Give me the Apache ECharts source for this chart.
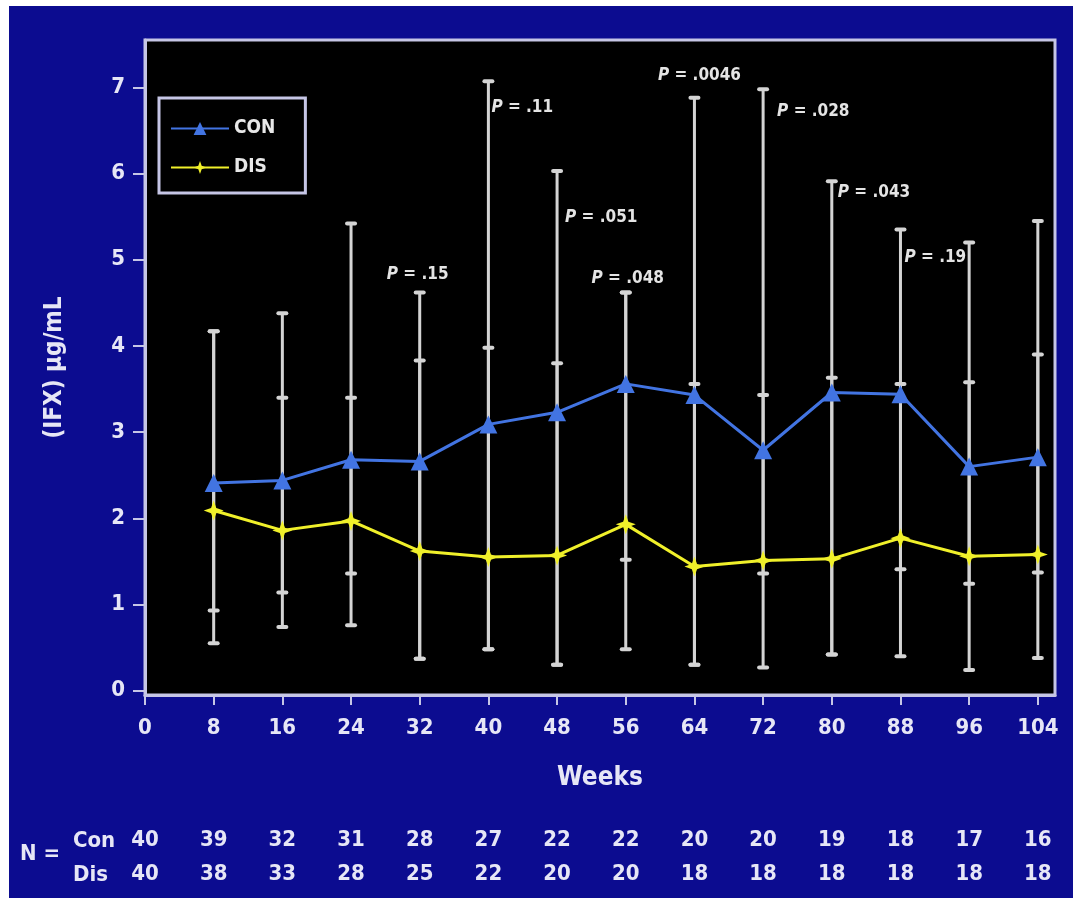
<!DOCTYPE html>
<html>
<head>
<meta charset="utf-8">
<title>IFX trough levels over time</title>
<script src="https://cdn.jsdelivr.net/npm/echarts@6/dist/echarts.min.js"></script>
<style>
  html, body { margin: 0; padding: 0; background: #ffffff; }
  #panel { position: absolute; left: 9px; top: 6px; right: 0; bottom: 10px; background: #0c0c90; }
  #chart { position: absolute; left: 0; top: 0; width: 1073px; height: 908px; }
</style>
</head>
<body>
<div id="panel"></div>
<div id="chart"></div>
<script>
// Visit weeks and group summaries (IFX, µg/mL)
const weeks   = [8, 16, 24, 32, 40, 48, 56, 64, 72, 80, 88, 96, 104];
const conMean = [2.41, 2.44, 2.68, 2.66, 3.09, 3.23, 3.56, 3.43, 2.79, 3.46, 3.44, 2.60, 2.71];
const disMean = [2.09, 1.86, 1.97, 1.62, 1.55, 1.57, 1.93, 1.44, 1.51, 1.53, 1.77, 1.56, 1.58];
const conHigh = [4.17, 4.38, 5.42, 4.62, 7.07, 6.03, 4.62, 6.88, 6.98, 5.91, 5.35, 5.20, 5.45];
const conLow  = [0.93, 1.14, 1.36, 0.37, 0.48, 0.30, 1.52, 0.30, 1.36, 0.42, 1.41, 1.24, 1.37];
const disHigh = [4.17, 3.40, 3.40, 3.83, 3.98, 3.80, 4.62, 3.56, 3.43, 3.63, 3.56, 3.58, 3.90];
const disLow  = [0.55, 0.74, 0.76, 0.37, 0.48, 0.30, 0.48, 0.30, 0.27, 0.42, 0.40, 0.24, 0.38];

// P values between groups, attached to the CON upper whisker of that week
const pWeeks  = [32, 40, 48, 56, 64, 72, 80, 88];
const pTexts  = ['.15', '.11', '.051', '.048', '.0046', '.028', '.043', '.19'];

// Axis ticks and patients at risk per week
const tickWeeks = [0, 8, 16, 24, 32, 40, 48, 56, 64, 72, 80, 88, 96, 104];
const yTicks    = [0, 1, 2, 3, 4, 5, 6, 7];
const conN = [40, 39, 32, 31, 28, 27, 22, 22, 20, 20, 19, 18, 17, 16];
const disN = [40, 38, 33, 28, 25, 22, 20, 20, 18, 18, 18, 18, 18, 18];

// Pick a narrow bold face: a condensed width of DejaVu Sans if present, else Liberation Sans
function pickFont() {
  const ctx = document.createElement('canvas').getContext('2d');
  const w = f => { ctx.font = f; return ctx.measureText('0123456789 Weeks CON').width; };
  if (w('bold 40px "Liberation Sans Narrow", monospace') !== w('bold 40px monospace')) {
    return { weight: 'bold', family: '"Liberation Sans Narrow", sans-serif' };
  }
  const wide = w('bold 40px "DejaVu Sans"');
  const cond = w('bold condensed 40px "DejaVu Sans"');
  if (cond > 0 && cond < wide * 0.95) {
    return { weight: 'bold condensed', family: '"DejaVu Sans", sans-serif' };
  }
  return { weight: 'bold', family: '"Liberation Sans", Arial, sans-serif' };
}
const F = pickFont();
const FONT = F.family, WEIGHT = F.weight;

const TEXT = '#e6e6f6';
const FRAME = '#c6c6e6';
const WHISKER = '#d4d4d4';
const BLUE = '#4274e2';
const YELLOW = '#f0f02a';
const STAR = 'path://M0,-10 L2.6,-2.6 L10,0 L2.6,2.6 L0,10 L-2.6,2.6 L-10,0 L-2.6,-2.6 Z';

const txt = (size, extra) => Object.assign({ color: TEXT, fontFamily: FONT, fontWeight: WEIGHT, fontSize: size }, extra || {});

// label placement next to each whisker cap: [dx, dy, align]
const pPlace = {
  32: [-2, -18, 'center'], 40: [3, 26, 'left'], 48: [8, 47, 'left'], 56: [2, -14, 'center'],
  64: [5, -22, 'center'], 72: [14, 22, 'left'], 80: [6, 11, 'left'], 88: [4, 28, 'left']
};

const rangeData = (lo, hi) => weeks.map((w, i) => [w, lo[i], hi[i]]);

function renderWhisker(params, api) {
  const top = api.coord([api.value(0), api.value(2)]);
  const bot = api.coord([api.value(0), api.value(1)]);
  const capW = 12, capH = 4;
  const style = { fill: WHISKER };
  return {
    type: 'group',
    children: [
      { type: 'line', shape: { x1: top[0], y1: top[1], x2: bot[0], y2: bot[1] },
        style: { stroke: WHISKER, lineWidth: 3 } },
      { type: 'rect', shape: { x: top[0] - capW / 2, y: top[1] - capH / 2, width: capW, height: capH, r: 2 }, style },
      { type: 'rect', shape: { x: bot[0] - capW / 2, y: bot[1] - capH / 2, width: capW, height: capH, r: 2 }, style }
    ]
  };
}

const pData = pWeeks.map((w, i) => [w, conHigh[weeks.indexOf(w)], i]);

function renderP(params, api) {
  const w = api.value(0);
  const pt = api.coord([w, api.value(1)]);
  const place = pPlace[w];
  return {
    type: 'text',
    x: pt[0] + place[0],
    y: pt[1] + place[1],
    style: {
      text: '{i|P} = ' + pTexts[api.value(2)],
      align: place[2],
      verticalAlign: 'middle',
      fill: '#e4e4e4',
      fontFamily: FONT, fontWeight: WEIGHT, fontSize: 17,
      rich: { i: { fontStyle: 'italic', fontWeight: WEIGHT, fontSize: 17, fontFamily: FONT, fill: '#e4e4e4' } }
    }
  };
}

const nAxis = (counts, offset) => ({
  type: 'value', gridIndex: 0, position: 'bottom', offset: offset,
  min: 0, max: 106,
  axisLine: { show: false }, axisTick: { show: false }, splitLine: { show: false },
  axisLabel: txt(22, {
    customValues: tickWeeks, margin: 0, verticalAlign: 'middle',
    formatter: v => String(counts[tickWeeks.indexOf(v)])
  })
});

const chart = echarts.init(document.getElementById('chart'), null, { renderer: 'canvas' });
chart.setOption({
  backgroundColor: 'transparent',
  animation: false,
  title: [
    { text: 'N =', left: 15, top: 838, textStyle: txt(22) },
    { text: 'Con', left: 68, top: 825, textStyle: txt(22) },
    { text: 'Dis', left: 68, top: 859, textStyle: txt(22) }
  ],
  legend: {
    orient: 'vertical', left: 159, top: 98,
    backgroundColor: '#000000', borderColor: FRAME, borderWidth: 3,
    padding: [21, 30, 16, 11],
    itemWidth: 58, itemHeight: 16, itemGap: 20,
    textStyle: txt(19, { color: '#e8e8e8' }),
    data: ['CON', 'DIS']
  },
  grid: {
    left: 145, top: 40, right: 18, bottom: 213,
    show: true, backgroundColor: '#000000', borderColor: FRAME, borderWidth: 3
  },
  xAxis: [
    {
      type: 'value', min: 0, max: 106,
      axisLine: { show: true, onZero: false, lineStyle: { color: FRAME, width: 3 } },
      axisTick: { show: true, customValues: tickWeeks, length: 10, lineStyle: { color: FRAME, width: 2 } },
      axisLabel: txt(22, { customValues: tickWeeks, margin: 22 }),
      splitLine: { show: false },
      name: 'Weeks', nameLocation: 'middle', nameGap: 70,
      nameTextStyle: txt(26)
    },
    nAxis(conN, 145),
    nAxis(disN, 179)
  ],
  yAxis: {
    type: 'value', min: -0.05, max: 7.55,
    axisLine: { show: true, lineStyle: { color: FRAME, width: 3 } },
    axisTick: { show: true, customValues: yTicks, length: 12, lineStyle: { color: FRAME, width: 2 } },
    axisLabel: txt(22, { customValues: yTicks, margin: 20 }),
    splitLine: { show: false },
    name: '(IFX) µg/mL', nameLocation: 'middle', nameRotate: 90, nameGap: 78,
    nameTextStyle: txt(24)
  },
  series: [
    { type: 'custom', name: 'conRange', renderItem: renderWhisker, data: rangeData(conLow, conHigh),
      encode: { x: 0, y: [1, 2] }, silent: true, z: 1 },
    { type: 'custom', name: 'disRange', renderItem: renderWhisker, data: rangeData(disLow, disHigh),
      encode: { x: 0, y: [1, 2] }, silent: true, z: 1 },
    { type: 'line', name: 'CON', data: weeks.map((w, i) => [w, conMean[i]]),
      symbol: 'triangle', symbolSize: 18,
      lineStyle: { color: BLUE, width: 3 }, itemStyle: { color: BLUE }, z: 3 },
    { type: 'line', name: 'DIS', data: weeks.map((w, i) => [w, disMean[i]]),
      symbol: STAR, symbolSize: 20,
      lineStyle: { color: YELLOW, width: 3 }, itemStyle: { color: YELLOW }, z: 3 },
    { type: 'custom', name: 'pLabels', renderItem: renderP, data: pData,
      encode: { x: 0, y: 1 }, silent: true, z: 4 }
  ]
});
</script>
</body>
</html>
